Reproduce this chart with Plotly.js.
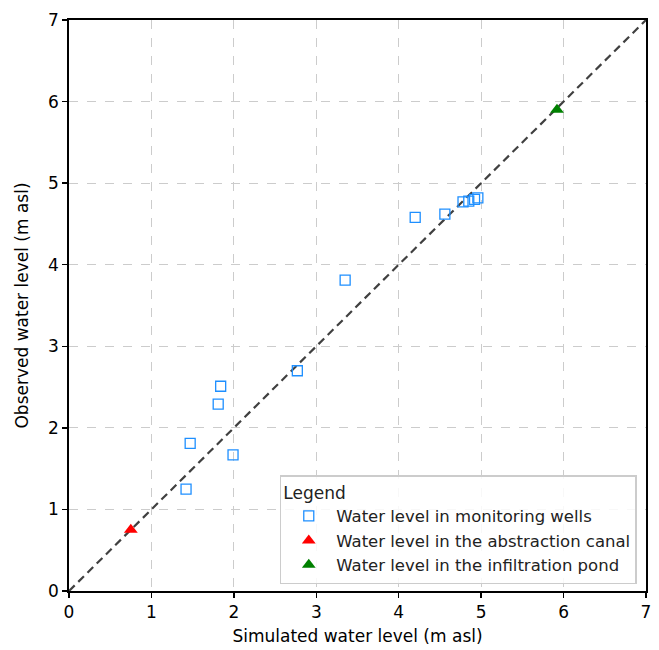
<!DOCTYPE html>
<html>
<head>
<meta charset="utf-8">
<script src="https://cdn.plot.ly/plotly-3.0.1.min.js"></script>
<style>html,body{margin:0;padding:0;background:#fff;}#chart{width:659px;height:650px;}</style>
</head>
<body>
<div id="chart"></div>
<script>
const wellsSim = [1.42, 1.47, 1.81, 1.84, 1.99, 2.77, 3.35, 4.20, 4.56, 4.78, 4.85, 4.92, 4.96];
const wellsObs = [1.25, 1.81, 2.29, 2.51, 1.67, 2.70, 3.81, 4.58, 4.62, 4.77, 4.78, 4.80, 4.82];
const canalSim = [0.75];
const canalObs = [0.75];
const pondSim = [5.92];
const pondObs = [5.90];
const lineRange = [0, 7];
const tickVals = [0, 1, 2, 3, 4, 5, 6, 7];

const font = "DejaVu Sans, sans-serif";

const traces = [
  {x: lineRange, y: lineRange, mode: 'lines', line: {color: '#404040', width: 2.2, dash: '8px,5px'}, showlegend: false, hoverinfo: 'skip'},
  {x: wellsSim, y: wellsObs, mode: 'markers', name: 'Water level in monitoring wells',
   marker: {symbol: 'square-open', size: 10, color: '#1e8fff', line: {width: 1.3}}},
  {x: canalSim, y: canalObs, mode: 'markers', name: 'Water level in the abstraction canal',
   marker: {symbol: 'triangle-up', size: 12, color: '#ff0000'}},
  {x: pondSim, y: pondObs, mode: 'markers', name: 'Water level in the infiltration pond',
   marker: {symbol: 'triangle-up', size: 12, color: '#008000'}}
];

const axisCommon = {
  range: [0, 7], tickvals: tickVals, showline: true, linecolor: '#000', linewidth: 1.8, mirror: true,
  ticks: 'outside', ticklen: 5, tickwidth: 1.4, tickcolor: '#000',
  showgrid: true, gridcolor: '#cccccc', gridwidth: 1.2, griddash: 'dash', zeroline: false,
  tickfont: {family: font, size: 17, color: '#000'}
};

const layout = {
  width: 659, height: 650,
  margin: {l: 69, r: 13, t: 20, b: 59},
  paper_bgcolor: '#fff', plot_bgcolor: '#fff',
  font: {family: font, color: '#000'},
  xaxis: Object.assign({}, axisCommon, {title: {text: 'Simulated water level (m asl)', font: {family: font, size: 17}, standoff: 9}}),
  yaxis: Object.assign({}, axisCommon, {title: {text: 'Observed water level (m asl)', font: {family: font, size: 17}, standoff: 15}}),
  legend: {
    x: 0.984, y: 0.012, xanchor: 'right', yanchor: 'bottom',
    bgcolor: 'rgba(255,255,255,0.85)', bordercolor: '#cccccc', borderwidth: 1.5,
    title: {text: 'Legend', font: {family: font, size: 17}},
    font: {family: font, size: 16.5, color: '#222'},
    tracegroupgap: 0, itemwidth: 45
  }
};

Plotly.newPlot('chart', traces, layout, {displayModeBar: false, staticPlot: true});
</script>
</body>
</html>
